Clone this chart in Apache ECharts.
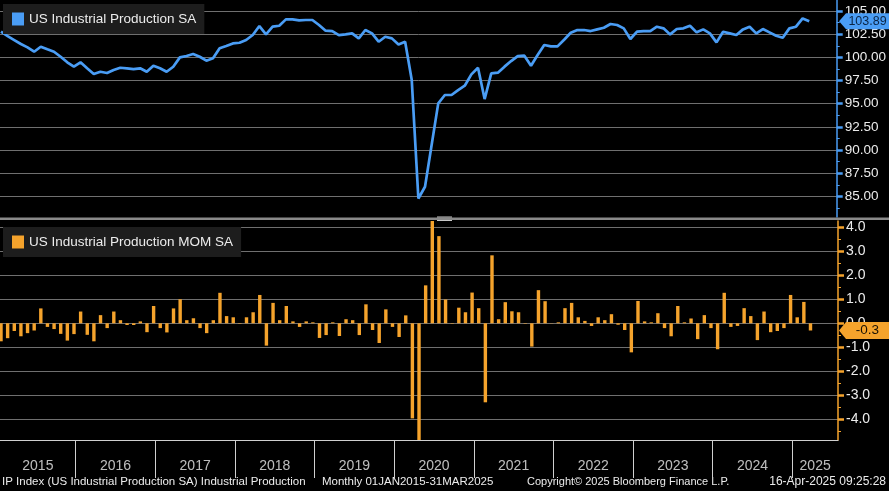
<!DOCTYPE html>
<html><head><meta charset="utf-8">
<script src="https://cdn.jsdelivr.net/npm/echarts@6/dist/echarts.min.js"></script>
<style>html,body{margin:0;padding:0;background:#000;}#c{width:889px;height:491px;}</style>
</head><body><div id="c"></div>
<script>
// ---- data (monthly, Jan 2015 .. Mar 2025) ----
const startYear = 2015;
const ipIndex = [
 102.77,102.30,101.87,101.44,101.08,100.61,101.15,100.87,100.61,100.07,99.47,98.99,
 99.47,98.82,98.20,98.45,98.31,98.64,98.88,98.82,98.74,98.82,98.45,99.10,
 98.82,98.45,98.99,100.00,100.15,100.36,100.07,99.64,99.90,100.98,101.22,101.51,
 101.58,101.87,102.41,103.38,102.49,103.31,103.41,104.10,104.10,103.99,104.03,104.03,
 103.49,102.88,102.84,102.41,102.48,102.59,102.05,102.95,102.59,101.69,102.23,102.05,
 101.40,101.69,97.55,84.78,86.04,90.54,95.04,95.94,95.94,96.47,96.94,98.17,
 98.88,95.50,98.27,98.35,99.00,99.60,100.14,100.18,99.10,100.25,101.33,101.19,
 101.19,101.90,102.66,102.95,102.95,102.84,103.02,103.20,103.60,103.49,103.13,101.98,
 102.77,102.84,102.84,103.31,103.13,102.48,103.06,103.13,103.42,102.70,103.02,102.59,
 101.62,102.77,102.59,102.41,103.02,103.31,102.59,103.06,102.70,102.34,102.12,103.13,
 103.31,104.20,103.89
];
const ipMom = [
 -0.75,-0.62,-0.32,-0.54,-0.41,-0.30,0.62,-0.15,-0.24,-0.44,-0.72,-0.45,
 0.49,-0.48,-0.75,0.34,-0.20,0.49,0.13,-0.07,-0.07,0.08,-0.37,0.72,
 -0.20,-0.38,0.62,1.00,0.13,0.21,-0.20,-0.41,0.13,1.27,0.30,0.25,
 -0.02,0.25,0.46,1.18,-0.93,0.85,0.13,0.72,0.08,-0.15,0.08,0.04,
 -0.61,-0.49,0.04,-0.53,0.17,0.13,-0.49,0.79,-0.28,-0.82,0.58,-0.15,
 -0.57,0.33,-3.96,-12.9,1.58,5.2,3.63,0.99,-0.02,0.65,0.46,1.28,
 0.63,-3.29,2.83,0.17,0.88,0.50,0.46,-0.02,-0.97,1.38,0.92,-0.01,
 0.04,0.63,0.85,0.25,0.10,-0.11,0.25,0.13,0.38,-0.06,-0.28,-1.21,
 0.93,0.08,0.04,0.42,-0.20,-0.54,0.72,0.04,0.20,-0.66,0.34,-0.20,
 -1.08,1.27,-0.15,-0.11,0.63,0.30,-0.70,0.49,-0.37,-0.32,-0.20,1.18,
 0.25,0.89,-0.30
];
const years = [2015,2016,2017,2018,2019,2020,2021,2022,2023,2024,2025];
const topTicks = [85,87.5,90,92.5,95,97.5,100,102.5,105];
const topMinor = [83.75,86.25,88.75,91.25,93.75,96.25,98.75,101.25,103.75,106.25];
const bottomTicks = [-4,-3,-2,-1,0,1,2,3,4];
const bottomMinor = [-4.5,-3.5,-2.5,-1.5,-0.5,0.5,1.5,2.5,3.5];
const nameIP = 'US Industrial Production SA';
const nameMom = 'US Industrial Production MOM SA';
const footerLeft = 'IP Index (US Industrial Production SA) Industrial Production';
const footerRange = 'Monthly 01JAN2015-31MAR2025';
const footerCopy = 'Copyright\u00a9 2025 Bloomberg Finance L.P.';
const footerDate = '16-Apr-2025 09:25:28';

// ---- layout ----
const BLUE = '#4a9df5', ORANGE = '#f5a32c', GRIDC = '#6f6f6f', TXT = '#ececec';
const FONT = 'Liberation Sans, Arial, sans-serif';
const X0 = 2015.0492, X1 = 2025.574;
const monthX = i => startYear + (i + 0.742) / 12;
const lineData = ipIndex.map((v, i) => [monthX(i), v]);
const barData = ipMom.map((v, i) => [monthX(i), v]);
const yearLabelData = years.map(y => [(Math.max(y, X0) + Math.min(y + 1, X1)) / 2, 0.32, String(y)]);
const sepData = years.slice(1).map(y => ({ xAxis: y }));

const chart = echarts.init(document.getElementById('c'));
const rightW = 51;
const hiddenX = (gi) => ({ type: 'value', gridIndex: gi, min: X0, max: X1, show: false, splitLine: { show: false } });

const option = {
  backgroundColor: '#000',
  animation: false,
  textStyle: { fontFamily: FONT },
  grid: [
    { left: 0, right: rightW, top: 0, height: 217 },
    { left: 0, right: rightW, top: 221, height: 219 },
    { left: 0, right: rightW, top: 440, height: 38 }
  ],
  legend: [
    { data: [nameIP], left: 3, top: 4, icon: 'rect', itemWidth: 12, itemHeight: 13,
      backgroundColor: '#1d1d1d', padding: [8, 8, 8, 9], selectedMode: false,
      textStyle: { color: TXT, fontSize: 13.5, fontFamily: FONT } },
    { data: [nameMom], left: 3, top: 227, icon: 'rect', itemWidth: 12, itemHeight: 13,
      backgroundColor: '#1d1d1d', padding: [8, 8, 8, 9], selectedMode: false,
      textStyle: { color: TXT, fontSize: 13.5, fontFamily: FONT } }
  ],
  xAxis: [
    hiddenX(0),
    { type: 'value', gridIndex: 1, min: X0, max: X1, splitLine: { show: false },
      axisLine: { show: true, onZero: false, lineStyle: { color: '#d0d0d0', width: 1.2 } },
      axisTick: { show: false }, axisLabel: { show: false } },
    hiddenX(2)
  ],
  yAxis: [
    { type: 'value', gridIndex: 0, position: 'right', min: 82.78, max: 106.19,
      axisLine: { show: true, lineStyle: { color: BLUE, width: 1.5 } },
      axisTick: { show: true, customValues: topTicks, length: 6, lineStyle: { color: BLUE, width: 2.5 } },
      axisLabel: { show: true, customValues: topTicks, margin: 8, color: TXT, fontSize: 13.5, fontFamily: FONT,
                   formatter: v => Number(v).toFixed(2) },
      splitLine: { show: true, lineStyle: { color: GRIDC, width: 1 } } },
    { type: 'value', gridIndex: 1, position: 'right', min: -4.86, max: 4.26,
      axisLine: { show: true, onZero: false, lineStyle: { color: ORANGE, width: 1.5 } },
      axisTick: { show: true, customValues: bottomTicks, length: 6, lineStyle: { color: ORANGE, width: 2.5 } },
      axisLabel: { show: true, customValues: bottomTicks, margin: 8, color: TXT, fontSize: 14, fontFamily: FONT,
                   formatter: v => Number(v).toFixed(1) },
      splitLine: { show: true, lineStyle: { color: GRIDC, width: 1 } } },
    { type: 'value', gridIndex: 2, min: 0, max: 1, show: false },
    { type: 'value', gridIndex: 0, position: 'right', min: 82.78, max: 106.19,
      axisLine: { show: false }, axisLabel: { show: false }, splitLine: { show: false },
      axisTick: { show: true, customValues: topMinor, length: 3, lineStyle: { color: BLUE, width: 1 } } },
    { type: 'value', gridIndex: 1, position: 'right', min: -4.86, max: 4.26,
      axisLine: { show: false }, axisLabel: { show: false }, splitLine: { show: false },
      axisTick: { show: true, customValues: bottomMinor, length: 3, lineStyle: { color: ORANGE, width: 1 } } }
  ],
  series: [
    { name: nameIP, type: 'line', xAxisIndex: 0, yAxisIndex: 0, data: lineData,
      showSymbol: false, symbol: 'none', clip: true,
      itemStyle: { color: BLUE }, lineStyle: { color: BLUE, width: 2.7 } },
    { name: nameMom, type: 'bar', xAxisIndex: 1, yAxisIndex: 1, data: barData,
      barWidth: 3.4, clip: true, itemStyle: { color: ORANGE } },
    { name: 'years', type: 'scatter', xAxisIndex: 2, yAxisIndex: 2, data: yearLabelData,
      symbolSize: 0, silent: true,
      label: { show: true, position: 'inside', color: TXT, fontSize: 14, fontFamily: FONT,
               formatter: p => p.data[2] },
      markLine: { silent: true, symbol: 'none', label: { show: false },
                  lineStyle: { color: '#cfcfcf', width: 1, type: 'solid' }, data: sepData } }
  ],
  graphic: [
    { id: 'sep', type: 'rect', shape: { x: 0, y: 217.5, width: 889, height: 2.5 }, style: { fill: '#8a8a8a' }, z: 50 },
    { id: 'h1', type: 'rect', shape: { x: 437, y: 216.5, width: 15, height: 1 }, style: { fill: '#c8c8c8' }, z: 51 },
    { id: 'h2', type: 'rect', shape: { x: 437, y: 220, width: 15, height: 1 }, style: { fill: '#c8c8c8' }, z: 51 },
    { id: 'f1', type: 'text', left: 2, top: 476, style: { text: footerLeft, fill: TXT, font: '11.5px ' + FONT } },
    { id: 'f2', type: 'text', left: 322, top: 476, style: { text: footerRange, fill: TXT, font: '11.5px ' + FONT } },
    { id: 'f3', type: 'text', left: 527, top: 476, style: { text: footerCopy, fill: TXT, font: '11px ' + FONT } },
    { id: 'f4', type: 'text', right: 3, top: 476, style: { text: footerDate, fill: TXT, font: '12px ' + FONT } }
  ]
};
chart.setOption(option);

// value tags on the right axis, positioned through the axes
const lastIP = ipIndex[ipIndex.length - 1];
const lastMom = ipMom[ipMom.length - 1];
const yIP = chart.convertToPixel({ yAxisIndex: 0 }, lastIP);
const yMom = chart.convertToPixel({ yAxisIndex: 1 }, lastMom);
const axX = 889 - rightW;
function tag(id, y, h, w, fill, text, textFill, fs) {
  return [
    { id: id + 'p', type: 'polygon', z: 60,
      shape: { points: [[axX + 1, y], [axX + 8, y - h / 2], [axX + 1 + w, y - h / 2], [axX + 1 + w, y + h / 2], [axX + 8, y + h / 2]] },
      style: { fill: fill } },
    { id: id + 't', type: 'text', z: 61, x: axX + 8 + (w - 7) / 2, y: y,
      style: { text: text, fill: textFill, font: fs + 'px ' + FONT, textAlign: 'center', textVerticalAlign: 'middle' } }
  ];
}
chart.setOption({ graphic: [
  ...tag('tIP', yIP, 16, 50, BLUE, lastIP.toFixed(2), '#0b2545', 12.5),
  ...tag('tMom', yMom, 17, 50, ORANGE, lastMom.toFixed(1), '#1a1205', 13.5)
] });
</script></body></html>
